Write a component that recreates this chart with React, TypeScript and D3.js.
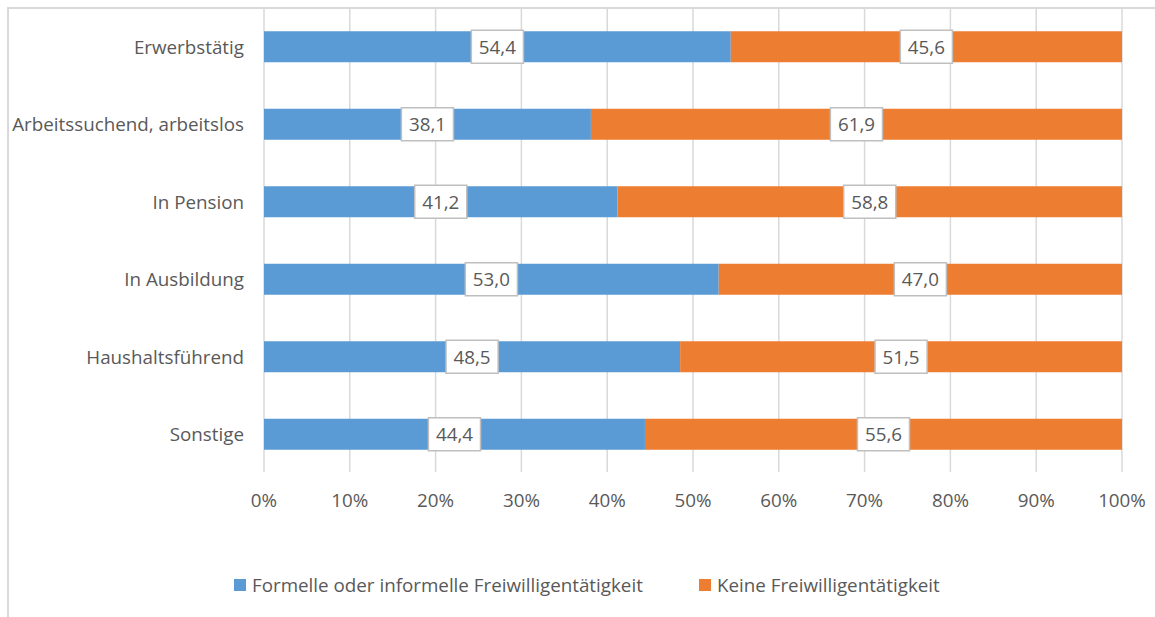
import React from "react";
import * as d3 from "d3";

const categories = [
  "Erwerbstätig",
  "Arbeitssuchend, arbeitslos",
  "In Pension",
  "In Ausbildung",
  "Haushaltsführend",
  "Sonstige",
];
const formalValues = [54.4, 38.1, 41.2, 53.0, 48.5, 44.4];
const noneValues = [45.6, 61.9, 58.8, 47.0, 51.5, 55.6];
const seriesNames = ["Formelle oder informelle Freiwilligentätigkeit", "Keine Freiwilligentätigkeit"];
const seriesColors = ["#5b9bd5", "#ed7d31"];
const tickValues = [0, 10, 20, 30, 40, 50, 60, 70, 80, 90, 100];

const W = 1155;
const H = 617;
const FONT = "'Open Sans', sans-serif";
const TXT = "#595959";

function measure(text: string, size: number): number {
  if (typeof document === "undefined") return text.length * size * 0.5;
  const c = document.createElement("canvas");
  const ctx = c.getContext("2d")!;
  ctx.font = `${size}px 'Open Sans'`;
  return ctx.measureText(text).width;
}

export default function App() {
  const x = d3.scaleLinear().domain([0, 100]).range([264, 1122]);
  const y = d3.scaleBand<string>().domain(categories).range([8, 473]).paddingInner(0.6).paddingOuter(0.3);
  const fmt = (v: number) => v.toFixed(1).replace(".", ",");
  const stack = categories.map((c, i) => [
    { s: 0, x0: 0, x1: formalValues[i], v: formalValues[i] },
    { s: 1, x0: formalValues[i], x1: formalValues[i] + noneValues[i], v: noneValues[i] },
  ]);
  const fs = 18.8;
  return (
    <svg width={W} height={H} style={{ position: "absolute", left: 0, top: 0, background: "#fff" }} fontFamily={FONT}>
      <rect x={8} y={8} width={W + 20} height={H + 20} fill="#fff" stroke="#d9d9d9" strokeWidth={2} />
      {tickValues.map((t) => (
        <line key={t} x1={x(t)} x2={x(t)} y1={9} y2={472} stroke="#d9d9d9" strokeWidth={1.5} />
      ))}
      {categories.map((c, i) => (
        <g key={c}>
          {stack[i].map((seg) => (
            <rect
              key={seg.s}
              x={x(seg.x0)}
              y={y(c)!}
              width={x(seg.x1) - x(seg.x0)}
              height={y.bandwidth()}
              fill={seriesColors[seg.s]}
            />
          ))}
          <text x={244} y={y(c)! + y.bandwidth() / 2} textAnchor="end" dominantBaseline="central" fontSize={fs} fill={TXT}>
            {c}
          </text>
        </g>
      ))}
      {categories.map((c, i) =>
        stack[i].map((seg) => {
          const cx = (x(seg.x0) + x(seg.x1)) / 2;
          const cy = y(c)! + y.bandwidth() / 2;
          const label = fmt(seg.v);
          const w = measure(label, fs) + 15;
          return (
            <g key={c + seg.s}>
              <rect x={cx - w / 2} y={cy - 16.5} width={w} height={33} fill="#fff" stroke="#bfbfbf" strokeWidth={1.5} />
              <text x={cx} y={cy} textAnchor="middle" dominantBaseline="central" fontSize={fs} fill={TXT}>
                {label}
              </text>
            </g>
          );
        })
      )}
      {tickValues.map((t) => (
        <text key={t} x={x(t)} y={500} textAnchor="middle" dominantBaseline="central" fontSize={fs} fill={TXT}>
          {t}%
        </text>
      ))}
      {seriesNames.map((n, i) => {
        const lx = i === 0 ? 234 : 699;
        return (
          <g key={n}>
            <rect x={lx} y={579} width={12} height={12} fill={seriesColors[i]} />
            <text x={lx + 18} y={585} dominantBaseline="central" fontSize={fs} fill={TXT}>
              {n}
            </text>
          </g>
        );
      })}
    </svg>
  );
}
